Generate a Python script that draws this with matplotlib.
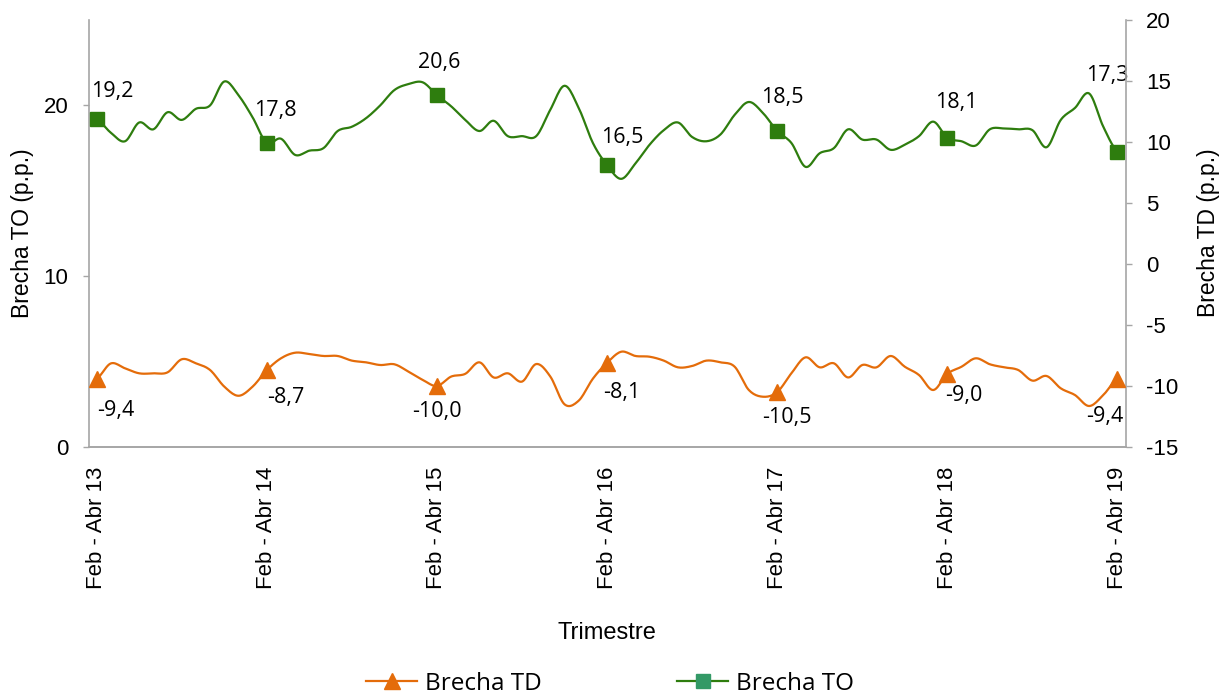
import numpy as np
import matplotlib
matplotlib.use('Agg')
import matplotlib.pyplot as plt
from matplotlib.lines import Line2D

plt.rcParams['axes.unicode_minus'] = False

# monthly rolling trimesters, Feb-Abr 13 .. Feb-Abr 19
brecha_to = [19.2, 18.4, 17.9, 19.0, 18.6, 19.6, 19.15, 19.8, 20.0, 21.4, 20.6, 19.3, 17.8,
             18.05, 17.1, 17.35, 17.5, 18.5, 18.75, 19.25, 20.0, 20.9, 21.25, 21.35, 20.6,
             19.95, 19.15, 18.5, 19.1, 18.2, 18.2, 18.2, 19.75, 21.15, 19.85, 17.8, 16.5,
             15.7, 16.6, 17.7, 18.55, 19.0, 18.15, 17.9, 18.3, 19.45, 20.2, 19.55, 18.5,
             17.8, 16.4, 17.2, 17.5, 18.6, 18.0, 18.0, 17.4, 17.7, 18.2, 19.05, 18.1,
             17.9, 17.65, 18.6, 18.65, 18.6, 18.55, 17.55, 19.15, 19.85, 20.7, 18.75, 17.3]
brecha_td = [-9.4, -8.15, -8.55, -8.96, -8.96, -8.88, -7.81, -8.14, -8.69, -10.05, -10.8, -10.05, -8.7,
             -7.73, -7.27, -7.38, -7.54, -7.54, -7.92, -8.06, -8.28, -8.22, -8.83, -9.5, -10.0,
             -9.23, -9.0, -8.06, -9.3, -8.96, -9.64, -8.2, -9.23, -11.5, -11.2, -9.4, -8.1,
             -7.19, -7.54, -7.6, -7.92, -8.47, -8.36, -7.92, -8.06, -8.42, -10.33, -10.88, -10.5,
             -8.96, -7.65, -8.47, -8.14, -9.3, -8.28, -8.47, -7.54, -8.42, -9.1, -10.33, -9.0,
             -8.42, -7.73, -8.22, -8.47, -8.69, -9.56, -9.18, -10.19, -10.74, -11.64, -10.74, -9.4]
tick_labels = ['Feb - Abr 13', 'Feb - Abr 14', 'Feb - Abr 15', 'Feb - Abr 16',
               'Feb - Abr 17', 'Feb - Abr 18', 'Feb - Abr 19']

# label nudges in pixels (dx, dy) relative to each marker
to_offsets = [(16, 28), (9, 32), (2, 33), (15, 28), (5, 34), (9, 35), (-10, 76)]
td_offsets = [(19, -32), (19, -27), (0, -25), (15, -30), (10, -25), (16, -22), (-13, -38)]

GREEN = '#2E7D0E'
ORANGE = '#E46C0A'
AXC = '#A6A6A6'


def smooth(y, n=12):
    # Catmull-Rom, like Excel's smoothed line
    y = np.asarray(y, float)
    p = np.concatenate([[y[0]], y, [y[-1]]])
    xs, ys = [], []
    t = np.linspace(0, 1, n, endpoint=False)
    for i in range(len(y) - 1):
        p0, p1, p2, p3 = p[i], p[i + 1], p[i + 2], p[i + 3]
        seg = 0.5 * (2 * p1 + (-p0 + p2) * t + (2 * p0 - 5 * p1 + 4 * p2 - p3) * t ** 2
                     + (-p0 + 3 * p1 - 3 * p2 + p3) * t ** 3)
        xs.extend(i + t)
        ys.extend(seg)
    xs.append(len(y) - 1)
    ys.append(y[-1])
    return np.array(xs), np.array(ys)


x = np.arange(len(brecha_to))
marks = x[::12]

fig = plt.figure(figsize=(12.25, 6.96), dpi=100)
ax = fig.add_axes([89 / 1225, 1 - 447 / 696, (1125.7 - 89) / 1225, (447 - 20) / 696])
ax2 = ax.twinx()

sx, sy = smooth(brecha_to)
ax.plot(sx, sy, color=GREEN, lw=1.6, zorder=3)
ax.plot(marks, np.array(brecha_to)[marks], ls='none', marker='s', ms=10.5, color=GREEN, zorder=4)

tx, ty = smooth(brecha_td)
ax2.plot(tx, ty, color=ORANGE, lw=1.6, zorder=3)
ax2.plot(marks, np.array(brecha_td)[marks], ls='none', marker='^', ms=12, color=ORANGE, zorder=4)

lab_font = dict(family='Open Sans', fontsize=15.5, color='black')
for k, i in enumerate(marks):
    dx, dy = to_offsets[k]
    ax.annotate(f'{brecha_to[i]:.1f}'.replace('.', ','), (i, brecha_to[i]),
                xytext=(dx * 0.72, dy * 0.72), textcoords='offset points',
                ha='center', va='center', **lab_font)
    dx, dy = td_offsets[k]
    ax2.annotate(f'{brecha_td[i]:.1f}'.replace('.', ','), (i, brecha_td[i]),
                 xytext=(dx * 0.72, dy * 0.72), textcoords='offset points',
                 ha='center', va='center', **lab_font)

ax.set_xlim(-0.54, 72.58)
ax.set_ylim(0, 25)
ax.set_yticks([0, 10, 20])
ax2.set_ylim(-15, 20)
ax2.set_yticks(range(-15, 21, 5))

ax.set_xticks(marks)
ax.set_xticklabels(tick_labels, rotation=90, family='Liberation Sans', fontsize=16)
ax.tick_params(axis='x', length=0, pad=14)
ax.tick_params(axis='y', length=4.3, width=1, color=AXC, pad=10.5, labelsize=16)
ax2.tick_params(axis='y', length=4.3, width=1, color=AXC, pad=10.5, labelsize=16)
for lab in ax.get_yticklabels() + ax2.get_yticklabels():
    lab.set_family('Liberation Sans')

for a in (ax, ax2):
    a.spines['top'].set_visible(False)
    for s in ('left', 'right', 'bottom'):
        a.spines[s].set_color(AXC)
        a.spines[s].set_linewidth(1.2)
ax.spines['right'].set_visible(False)
ax2.spines['left'].set_visible(False)

fig.text(23 / 1225, 1 - 233 / 696, 'Brecha TO (p.p.)', rotation=90, ha='center', va='center',
         family='Liberation Sans', fontsize=16.5)
fig.text(1208 / 1225, 1 - 233 / 696, 'Brecha TD (p.p.)', rotation=90, ha='center', va='center',
         family='Liberation Sans', fontsize=16.5)
fig.text(607 / 1225, 1 - 633 / 696, 'Trimestre', ha='center', va='center',
         family='Liberation Sans', fontsize=17)

handles = [Line2D([], [], color=ORANGE, lw=1.6, marker='^', ms=12),
           Line2D([], [], color=GREEN, lw=1.6, marker='s', ms=10.5, mfc='#339966', mec='#339966')]
fig.legend(handles, ['Brecha TD', 'Brecha TO'], loc='center', bbox_to_anchor=(610 / 1225, 1 - 684 / 696),
           ncol=2, frameon=False, columnspacing=5.6, handlelength=2.1, handletextpad=0.3,
           prop={'family': 'Open Sans', 'size': 17.5})

fig.savefig('out.png', dpi=100)
